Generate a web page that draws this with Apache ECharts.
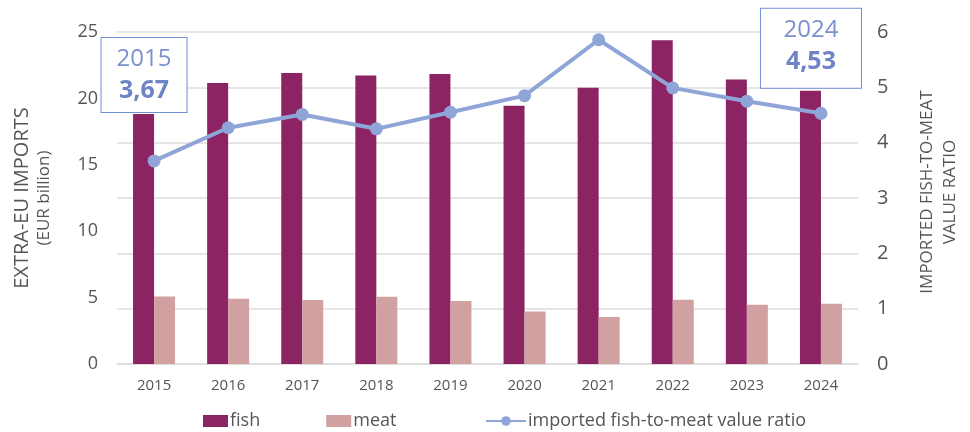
<!DOCTYPE html>
<html>
<head>
<meta charset="utf-8">
<script src="https://cdn.jsdelivr.net/npm/echarts@6/dist/echarts.min.js"></script>
<style>
  html, body { margin: 0; padding: 0; background: #fff; }
  #chart { width: 970px; height: 432px; }
</style>
</head>
<body>
<div id="chart"></div>
<script>
// Extra-EU imports of fish and meat (EUR billion) and their value ratio
const years = ['2015', '2016', '2017', '2018', '2019', '2020', '2021', '2022', '2023', '2024'];
const fish = [18.83, 21.16, 21.91, 21.73, 21.84, 19.45, 20.80, 24.37, 21.43, 20.58];
const meat = [5.09, 4.92, 4.82, 5.07, 4.74, 3.96, 3.54, 4.84, 4.47, 4.54];
const ratio = [3.67, 4.27, 4.51, 4.25, 4.55, 4.85, 5.86, 4.99, 4.75, 4.53];

const leftTicks = [0, 25, 5];   // min, max, step
const rightTicks = [0, 6, 1];

const FONT = '"Open Sans", "Noto Sans", sans-serif';
const TEXT = '#555555';
const GRID = '#dcdcdc';
const FISH = '#8c2362';
const MEAT = '#d1a0a0';
const RATIO = '#8fa5d8';
const NOTE = '#7b90cf';

const fmt = v => v.toFixed(2).replace('.', ',');

// Callout box on the first and last ratio points
function callout(idx, opts) {
  return {
    value: ratio[idx],
    label: {
      show: true,
      position: 'inside',
      offset: opts.offset,
      formatter: p => '{y|' + p.name + '}\n{v|' + fmt(p.value) + '}',
      width: opts.width,
      padding: opts.padding,
      align: 'center',
      verticalAlign: 'middle',
      backgroundColor: '#ffffff',
      borderColor: '#6f8fd6',
      borderWidth: 1,
      borderRadius: 0,
      rich: {
        y: { fontFamily: FONT, fontSize: 24, color: NOTE, lineHeight: 32, align: 'center' },
        v: { fontFamily: FONT, fontSize: 25, fontWeight: 'bold', color: '#6e84c6', lineHeight: 32, align: 'center' }
      }
    }
  };
}

const ratioData = ratio.map(v => v);
ratioData[0] = callout(0, { offset: [-10, -86], width: 85, padding: [5, 0, 5, 0] });
ratioData[ratio.length - 1] = callout(ratio.length - 1, { offset: [-10, -65], width: 100, padding: [5, 0, 10, 0] });

const legendText = { fontFamily: FONT, fontSize: 18, color: TEXT, padding: [0, 0, 0, -3] };

const chart = echarts.init(document.getElementById('chart'), null, { renderer: 'canvas' });
chart.setOption({
  animation: false,
  textStyle: { fontFamily: FONT },
  grid: { left: 117, right: 106, top: 32, bottom: 68 },
  legend: [
    {
      left: 198,
      bottom: -3,
      itemGap: 66,
      itemWidth: 25,
      itemHeight: 12,
      textStyle: legendText,
      data: [
        { name: 'fish', icon: 'rect' },
        { name: 'meat', icon: 'rect' }
      ]
    },
    {
      left: 480,
      bottom: -3,
      itemWidth: 40,
      itemHeight: 12,
      textStyle: legendText,
      data: [{ name: 'imported fish-to-meat value ratio' }]
    }
  ],
  xAxis: {
    type: 'category',
    data: years,
    axisLine: { lineStyle: { color: GRID, width: 1.5 } },
    axisTick: { show: false },
    axisLabel: { color: TEXT, fontSize: 15, margin: 14, fontFamily: FONT }
  },
  yAxis: [
    {
      type: 'value',
      min: leftTicks[0], max: leftTicks[1], interval: leftTicks[2],
      splitLine: { show: false },
      axisLine: { show: false },
      axisTick: { show: false },
      axisLabel: { color: TEXT, fontSize: 18, margin: 19, fontFamily: FONT },
      name: '{a|EXTRA-EU IMPORTS}\n{b|(EUR billion)}',
      nameLocation: 'middle',
      nameRotate: 90,
      nameGap: 62,
      nameTextStyle: {
        align: 'center',
        rich: {
          a: { fontFamily: FONT, fontSize: 20, color: TEXT, lineHeight: 24, align: 'center' },
          b: { fontFamily: FONT, fontSize: 17, color: TEXT, lineHeight: 21, align: 'center' }
        }
      }
    },
    {
      type: 'value',
      min: rightTicks[0], max: rightTicks[1], interval: rightTicks[2],
      position: 'right',
      splitLine: { show: true, lineStyle: { color: GRID, width: 1.5 } },
      axisLine: { show: false },
      axisTick: { show: false },
      axisLabel: { color: TEXT, fontSize: 20, margin: 19, fontFamily: FONT },
      name: 'IMPORTED FISH-TO-MEAT\nVALUE RATIO',
      nameLocation: 'middle',
      nameRotate: 90,
      nameGap: 58,
      nameTextStyle: { fontFamily: FONT, fontSize: 17, color: TEXT, lineHeight: 23, align: 'center', padding: [0, 0, 0, 12] }
    }
  ],
  series: [
    {
      name: 'fish',
      type: 'bar',
      yAxisIndex: 0,
      data: fish,
      barWidth: 21,
      barGap: '0%',
      itemStyle: { color: FISH }
    },
    {
      name: 'meat',
      type: 'bar',
      yAxisIndex: 0,
      data: meat,
      barWidth: 21,
      barGap: '0%',
      itemStyle: { color: MEAT }
    },
    {
      name: 'imported fish-to-meat value ratio',
      type: 'line',
      yAxisIndex: 1,
      data: ratioData,
      z: 5,
      symbol: 'circle',
      symbolSize: 13,
      lineStyle: { color: RATIO, width: 4 },
      itemStyle: { color: RATIO }
    }
  ]
});
</script>
</body>
</html>
